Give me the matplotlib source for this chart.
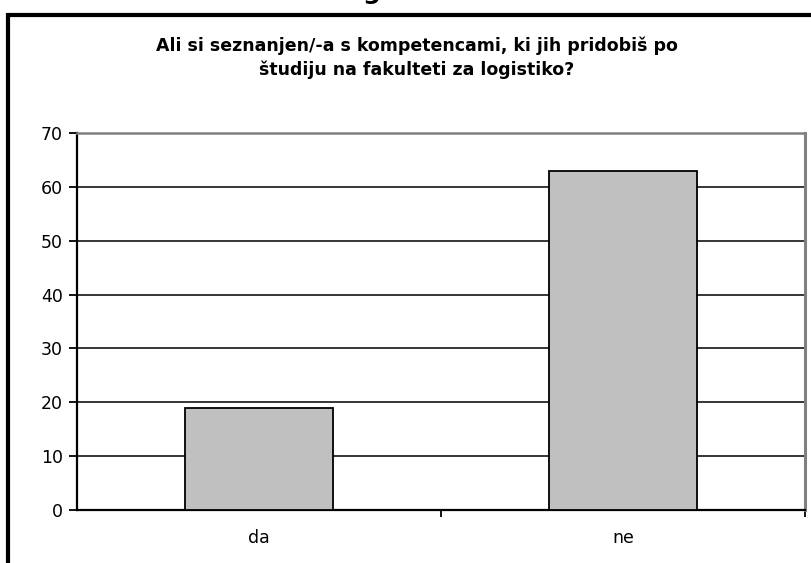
import matplotlib
matplotlib.use("Agg")
import matplotlib.pyplot as plt
from matplotlib.patches import Rectangle
import numpy as np

categories = ["da", "ne"]
values = [19, 63]
yticks = [0, 10, 20, 30, 40, 50, 60, 70]
title = "Ali si seznanjen/-a s kompetencami, ki jih pridobiš po\nštudiju na fakulteti za logistiko?"

plt.rcParams["font.family"] = ["DejaVu Sans"]

fig = plt.figure(figsize=(8.11, 5.63), dpi=100)
ax = fig.add_axes([77 / 811, 1 - 510 / 563, (805 - 77) / 811, (510 - 133) / 563])

# outer chart frame (runs off the right and bottom edges)
fig.patches.append(Rectangle((8 / 811, -0.1), 1.2, 1.1 - 15 / 563, transform=fig.transFigure,
                             fill=False, edgecolor="black", linewidth=3))
# clipped heading above the frame
fig.text(372 / 811, 1 + 1 / 563, "g", ha="center", va="baseline", fontsize=18, fontweight="bold")

fig.text(417 / 811, 1 - 58 / 563, title, ha="center", va="center", fontsize=12.5,
         fontweight="bold", linespacing=1.4)

x = np.arange(len(categories))
ax.bar(x, values, width=0.405, color="#c0c0c0", edgecolor="black", linewidth=1.3, zorder=3)

ax.set_xlim(-0.5, 1.5)
ax.set_ylim(0, 70)
ax.set_yticks(yticks)
ax.tick_params(axis="y", labelsize=12.5, length=6, width=1.3, direction="out", pad=4)
for yv in yticks[1:-1]:
    ax.axhline(yv, color="black", linewidth=1.1, zorder=1)

ax.set_xticks(x)
ax.set_xticklabels(categories)
ax.tick_params(axis="x", which="major", length=0, labelsize=12.5, pad=14)
ax.set_xticks([0.5, 1.5], minor=True)
ax.tick_params(axis="x", which="minor", length=5, width=1.3, direction="out")

ax.spines["left"].set_linewidth(1.6)
ax.spines["bottom"].set_linewidth(1.6)
ax.spines["top"].set_color("#808080")
ax.spines["top"].set_linewidth(1.8)
ax.spines["right"].set_color("#808080")
ax.spines["right"].set_linewidth(2.2)

fig.savefig("out.png", dpi=100)
